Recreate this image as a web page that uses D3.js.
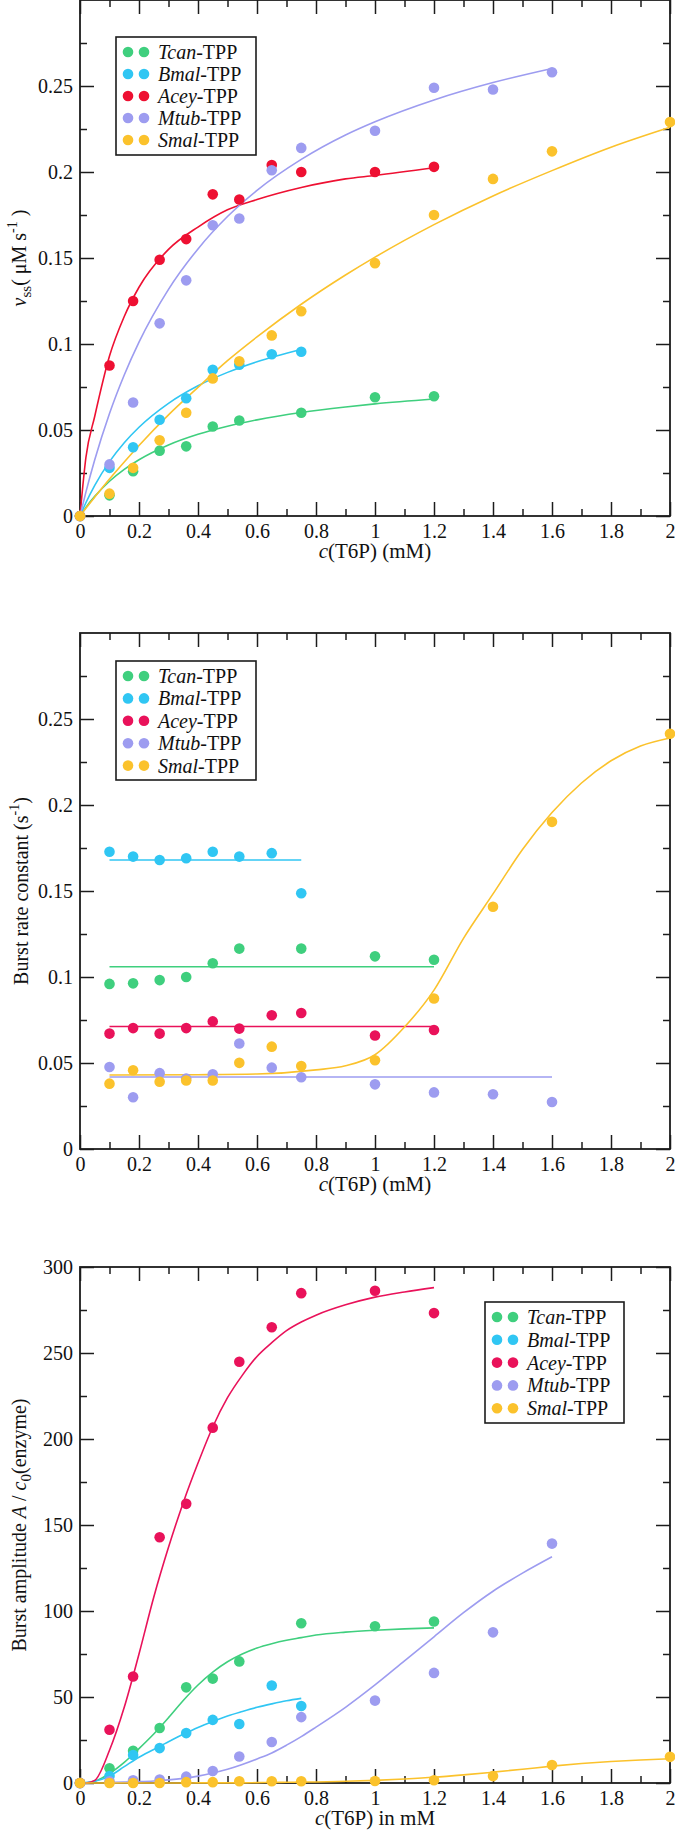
<!DOCTYPE html>
<html><head><meta charset="utf-8">
<script src="https://cdn.jsdelivr.net/npm/d3@7"></script>
<style>
body{margin:0;background:#fff}
svg{display:block}
svg text{font-family:"Liberation Serif","Tinos","Times New Roman","DejaVu Serif",serif;fill:#111}
</style>
</head><body>
<svg id="c" width="675" height="1830"></svg>
<script>
// ---------- categories / shared ----------
const species = ["Tcan", "Bmal", "Acey", "Mtub", "Smal"];
const conc = [0, 0.1, 0.18, 0.27, 0.36, 0.45, 0.54, 0.65, 0.75, 1.0, 1.2, 1.4, 1.6, 2.0];
const xTicks = [0, 0.2, 0.4, 0.6, 0.8, 1, 1.2, 1.4, 1.6, 1.8, 2];
const xTickLabels = ["0", "0.2", "0.4", "0.6", "0.8", "1", "1.2", "1.4", "1.6", "1.8", "2"];
const rateTicks = [0, 0.05, 0.1, 0.15, 0.2, 0.25];
const rateTickLabels = ["0", "0.05", "0.1", "0.15", "0.2", "0.25"];
const ampTicks = [0, 50, 100, 150, 200, 250, 300];
const ampTickLabels = ["0", "50", "100", "150", "200", "250", "300"];

// ---------- panel 1 : steady-state rate v_ss (µM/s) ----------
const vssTcan = [0, 0.012, 0.026, 0.038, 0.0405, 0.052, 0.0555, null, 0.060, 0.069, 0.0696, null, null, null];
const vssBmal = [0, 0.028, 0.040, 0.056, 0.0685, 0.085, 0.088, 0.094, 0.0955, null, null, null, null, null];
const vssAcey = [0, 0.0875, 0.125, 0.149, 0.161, 0.187, 0.184, 0.204, 0.200, 0.200, 0.203, null, null, null];
const vssMtub = [0, 0.030, 0.066, 0.112, 0.137, 0.169, 0.173, 0.201, 0.214, 0.224, 0.249, 0.248, 0.258, null];
const vssSmal = [0, 0.013, 0.028, 0.044, 0.060, 0.080, 0.090, 0.105, 0.119, 0.147, 0.175, 0.196, 0.212, 0.229];
// fitted curves
const fitX1 = [0, 0.02, 0.05, 0.1, 0.15, 0.2, 0.3, 0.4, 0.5, 0.6, 0.75, 0.9, 1.0, 1.2, 1.4, 1.6, 1.8, 2.0];
const vssFitTcan = [0, 0.005, 0.0114, 0.0202, 0.0271, 0.0327, 0.0413, 0.0475, 0.0522, 0.0559, 0.0602, 0.0634, 0.0652, 0.068, null, null, null, null];
const vssFitBmal = [0, 0.0077, 0.0178, 0.0316, 0.0426, 0.0516, 0.0655, 0.0757, 0.0835, 0.0897, 0.0968, null, null, null, null, null, null, null];
const vssFitAcey = [0, 0.034, 0.058, 0.093, 0.116, 0.133, 0.155, 0.168, 0.178, 0.184, 0.191, 0.196, 0.198, 0.2025, null, null, null, null];
const vssFitMtub = [0, 0.0139, 0.0327, 0.0596, 0.082, 0.1011, 0.1318, 0.1553, 0.1741, 0.1893, 0.2073, 0.2215, 0.2292, 0.2419, 0.252, 0.2602, null, null];
const vssFitSmal = [0, 0.0045, 0.011, 0.0215, 0.0314, 0.041, 0.0588, 0.0748, 0.0903, 0.1041, 0.1231, 0.1401, 0.1505, 0.1694, 0.1861, 0.2008, 0.2144, 0.226];

// ---------- panel 2 : burst rate constant (1/s) ----------
const kTcan = [null, 0.096, 0.0963, 0.0982, 0.100, 0.108, 0.1165, null, 0.1165, 0.112, 0.110, null, null, null];
const kBmal = [null, 0.1728, 0.170, 0.168, 0.169, 0.1728, 0.170, 0.172, 0.1487, null, null, null, null, null];
const kAcey = [null, 0.0671, 0.0703, 0.0671, 0.0703, 0.0742, 0.070, 0.0778, 0.0791, 0.066, 0.0692, null, null, null];
const kMtub = [null, 0.0477, 0.0301, 0.0441, 0.041, 0.0434, 0.0613, 0.0473, 0.0417, 0.0376, 0.0329, 0.0318, 0.0273, null];
const kSmal = [null, 0.038, 0.0458, 0.0391, 0.0398, 0.0398, 0.0501, 0.0595, 0.0482, 0.0516, 0.0875, 0.1408, 0.1902, 0.2414];
const kFitLevelTcan = [0.106, 0.106];   const kFitRangeTcan = [0.1, 1.2];
const kFitLevelBmal = [0.168, 0.168];   const kFitRangeBmal = [0.1, 0.75];
const kFitLevelAcey = [0.0712, 0.0712]; const kFitRangeAcey = [0.1, 1.2];
const kFitLevelMtub = [0.0419, 0.0419]; const kFitRangeMtub = [0.1, 1.6];
const fitX2 = [0.1, 0.4, 0.6, 0.8, 0.9, 1.0, 1.1, 1.2, 1.3, 1.4, 1.5, 1.6, 1.7, 1.8, 1.9, 2.0];
const kFitSmal = [0.043, 0.0432, 0.0436, 0.046, 0.0484, 0.0548, 0.0709, 0.0924, 0.1225, 0.1483, 0.1741, 0.1956, 0.2128, 0.2257, 0.2343, 0.239];

// ---------- panel 3 : burst amplitude A / c0 ----------
const ampTcan = [0, 8.6, 18.7, 32, 55.6, 60.7, 70.7, null, 92.9, 91.1, 93.9, null, null, null];
const ampBmal = [0, 4, 16.3, 20.3, 29, 36.7, 34.3, 56.7, 44.8, null, null, null, null, null];
const ampAcey = [0, 31, 61.9, 142.9, 162.3, 206.6, 244.9, 265, 284.8, 286.2, 273.2, null, null, null];
const ampMtub = [0, 1, 1.6, 2, 3.7, 7, 15.4, 23.8, 38.3, 47.9, 64, 87.6, 139.2, null];
const ampSmal = [0, 0, 0, 0, 0.5, 0.5, 1, 1, 1, 1.2, 1.6, 4, 10.5, 15.2];
const fitX3 = [0, 0.02, 0.05, 0.1, 0.15, 0.2, 0.25, 0.3, 0.35, 0.4, 0.45, 0.5, 0.55, 0.6, 0.65, 0.7, 0.75, 0.8, 0.9, 1.0, 1.1, 1.2, 1.3, 1.4, 1.5, 1.6, 1.7, 1.8, 1.9, 2.0];
const ampFitTcan = [0, 0, 1, 5.5, 12, 20, 28.5, 38, 48, 57, 64.5, 70.5, 75, 78.5, 81, 83, 84.5, 86, 87.7, 88.8, 89.6, 90.2, null, null, null, null, null, null, null, null];
const ampFitBmal = [0, 0.3, 1, 4, 9.5, 15, 19.5, 24, 28.3, 32.3, 35.8, 39, 41.6, 44, 46, 47.8, 49.2, null, null, null, null, null, null, null, null, null, null, null, null, null];
const ampFitAcey = [0, 0, 1.5, 19, 44, 75, 108, 137, 163, 186, 207, 224, 237, 248, 256, 263, 268, 272, 278, 282.5, 285.5, 288, null, null, null, null, null, null, null, null];
const ampFitMtub = [null, null, null, 0.3, 0.5, 0.8, 1.2, 1.8, 2.7, 4, 5.8, 8, 10.8, 14, 17.5, 22, 27, 32.5, 44, 57, 71, 85, 99, 111.5, 122, 131.5, null, null, null, null];
const ampFitSmal = [0, 0, 0, 0, 0, 0, 0, 0, 0, 0.05, 0.05, 0.1, 0.1, 0.2, 0.3, 0.4, 0.5, 0.6, 1, 1.5, 2.3, 3.3, 4.7, 6.3, 8, 9.8, 11.3, 12.5, 13.4, 14.1];

// ---------- colours ----------
const colTcan = "#3fcf7e", colBmal = "#30c6f3", colAceyRed = "#ee1032", colAceyPink = "#e9125a",
      colMtub = "#9d9cf0", colSmal = "#fbc22c";

// ---------- drawing ----------
const FONT = '"Liberation Serif","Tinos","Times New Roman","DejaVu Serif",serif';
const svg = d3.select("#c");
const L = 80, R = 670, H = 516;
const ink = "#1c1c1c";

function pairs(xs, ys) {
  return xs.map((v, i) => [v, ys[i]]).filter(d => d[1] !== null && d[1] !== undefined);
}

function panel(cfg) {
  const top = cfg.top, bottom = top + H;
  const x = d3.scaleLinear().domain([0, 2]).range([L, R]);
  const y = d3.scaleLinear().domain(cfg.ydom).range([bottom, top]);
  const g = svg.append("g").attr("font-family", FONT);

  const minorX = d3.range(0.1, 2, 0.2);
  const minorY = cfg.minorY;
  function styleAxis(sel) {
    sel.attr("font-family", FONT).attr("font-size", 20);
    sel.select(".domain").remove();
    sel.selectAll("line").attr("stroke", ink).attr("stroke-width", 1.5);
    sel.selectAll("text").attr("font-size", 20).attr("font-family", FONT).attr("fill", "#111");
  }
  // bottom
  g.append("g").attr("transform", `translate(0,${bottom})`)
    .call(d3.axisBottom(x).tickValues(xTicks).tickSize(-14).tickPadding(8).tickFormat((d, i) => xTickLabels[i]))
    .call(styleAxis);
  g.append("g").attr("transform", `translate(0,${bottom})`)
    .call(d3.axisBottom(x).tickValues(minorX).tickSize(-7).tickFormat(""))
    .call(styleAxis);
  // top
  g.append("g").attr("transform", `translate(0,${top})`)
    .call(d3.axisTop(x).tickValues(xTicks).tickSize(-14).tickFormat(""))
    .call(styleAxis);
  g.append("g").attr("transform", `translate(0,${top})`)
    .call(d3.axisTop(x).tickValues(minorX).tickSize(-7).tickFormat(""))
    .call(styleAxis);
  // left
  g.append("g").attr("transform", `translate(${L},0)`)
    .call(d3.axisLeft(y).tickValues(cfg.yTicks).tickSize(-14).tickPadding(7).tickFormat((d, i) => cfg.yLabels[i]))
    .call(styleAxis);
  g.append("g").attr("transform", `translate(${L},0)`)
    .call(d3.axisLeft(y).tickValues(minorY).tickSize(-7).tickFormat(""))
    .call(styleAxis);
  // right
  g.append("g").attr("transform", `translate(${R},0)`)
    .call(d3.axisRight(y).tickValues(cfg.yTicks).tickSize(-14).tickFormat(""))
    .call(styleAxis);
  g.append("g").attr("transform", `translate(${R},0)`)
    .call(d3.axisRight(y).tickValues(minorY).tickSize(-7).tickFormat(""))
    .call(styleAxis);
  // frame
  g.append("rect").attr("x", L).attr("y", top).attr("width", R - L).attr("height", H)
    .attr("fill", "none").attr("stroke", ink).attr("stroke-width", 1.8);

  // curves
  const line = d3.line().x(d => x(d[0])).y(d => y(d[1])).curve(d3.curveMonotoneX);
  cfg.fits.forEach(f => {
    g.append("path").attr("d", line(pairs(f.x, f.y)))
      .attr("fill", "none").attr("stroke", f.color).attr("stroke-width", 1.6);
  });
  // points
  cfg.series.forEach(s => {
    g.append("g").selectAll("circle").data(pairs(conc, s.values)).join("circle")
      .attr("cx", d => x(d[0])).attr("cy", d => y(d[1])).attr("r", 5.3).attr("fill", s.color);
  });

  // axis titles
  const xt = g.append("text").attr("x", (L + R) / 2).attr("y", cfg.xTitleY)
    .attr("text-anchor", "middle").attr("font-size", 21);
  xt.append("tspan").attr("font-style", "italic").text("c");
  xt.append("tspan").text(cfg.xTitleRest);

  const yt = g.append("text").attr("transform", `translate(${cfg.yTitleX},${(top + bottom) / 2}) rotate(-90)`)
    .attr("text-anchor", "middle").attr("font-size", 20);
  cfg.yTitle(yt);

  // legend
  const lg = g.append("g").attr("transform", `translate(${cfg.legend.x},${cfg.legend.y})`);
  lg.append("rect").attr("width", cfg.legend.w).attr("height", cfg.legend.h)
    .attr("fill", "#fff").attr("stroke", ink).attr("stroke-width", 1.6);
  cfg.series.forEach((s, i) => {
    const cy = 15 + i * cfg.legend.step;
    lg.append("circle").attr("cx", 12).attr("cy", cy).attr("r", 5.3).attr("fill", s.color);
    lg.append("circle").attr("cx", 28).attr("cy", cy).attr("r", 5.3).attr("fill", s.color);
    const t = lg.append("text").attr("x", 42).attr("y", cy + 7).attr("font-size", 20);
    t.append("tspan").attr("font-style", "italic").text(species[i]);
    t.append("tspan").text("-TPP");
  });
}

// Panel 1
panel({
  top: 0, ydom: [0, 0.3],
  yTicks: rateTicks, yLabels: rateTickLabels, minorY: d3.range(0.025, 0.3, 0.05),
  series: [
    { values: vssTcan, color: colTcan }, { values: vssBmal, color: colBmal },
    { values: vssAcey, color: colAceyRed }, { values: vssMtub, color: colMtub },
    { values: vssSmal, color: colSmal }],
  fits: [
    { x: fitX1, y: vssFitTcan, color: colTcan }, { x: fitX1, y: vssFitBmal, color: colBmal },
    { x: fitX1, y: vssFitAcey, color: colAceyRed }, { x: fitX1, y: vssFitMtub, color: colMtub },
    { x: fitX1, y: vssFitSmal, color: colSmal }],
  xTitleY: 558, xTitleRest: "(T6P) (mM)",
  yTitleX: 26,
  yTitle: t => {
    t.append("tspan").attr("font-style", "italic").text("ν");
    t.append("tspan").attr("font-size", 15).attr("dy", 5).text("ss");
    t.append("tspan").attr("dy", -5).text("( μM s");
    t.append("tspan").attr("font-size", 14).attr("dy", -9).text("-1");
    t.append("tspan").attr("dy", 9).text(" )");
  },
  legend: { x: 116, y: 37, w: 140, h: 118, step: 22 }
});

// Panel 2
panel({
  top: 633, ydom: [0, 0.3],
  yTicks: rateTicks, yLabels: rateTickLabels, minorY: d3.range(0.025, 0.3, 0.05),
  series: [
    { values: kTcan, color: colTcan }, { values: kBmal, color: colBmal },
    { values: kAcey, color: colAceyPink }, { values: kMtub, color: colMtub },
    { values: kSmal, color: colSmal }],
  fits: [
    { x: kFitRangeTcan, y: kFitLevelTcan, color: colTcan }, { x: kFitRangeBmal, y: kFitLevelBmal, color: colBmal },
    { x: kFitRangeAcey, y: kFitLevelAcey, color: colAceyPink }, { x: kFitRangeMtub, y: kFitLevelMtub, color: colMtub },
    { x: fitX2, y: kFitSmal, color: colSmal }],
  xTitleY: 1191, xTitleRest: "(T6P) (mM)",
  yTitleX: 28,
  yTitle: t => {
    t.append("tspan").text("Burst rate constant (s");
    t.append("tspan").attr("font-size", 14).attr("dy", -9).text("-1");
    t.append("tspan").attr("dy", 9).text(")");
  },
  legend: { x: 116, y: 661, w: 140, h: 119, step: 22.4 }
});

// Panel 3
panel({
  top: 1267, ydom: [0, 300],
  yTicks: ampTicks, yLabels: ampTickLabels, minorY: d3.range(25, 300, 50),
  series: [
    { values: ampTcan, color: colTcan }, { values: ampBmal, color: colBmal },
    { values: ampAcey, color: colAceyPink }, { values: ampMtub, color: colMtub },
    { values: ampSmal, color: colSmal }],
  fits: [
    { x: fitX3, y: ampFitTcan, color: colTcan }, { x: fitX3, y: ampFitBmal, color: colBmal },
    { x: fitX3, y: ampFitAcey, color: colAceyPink }, { x: fitX3, y: ampFitMtub, color: colMtub },
    { x: fitX3, y: ampFitSmal, color: colSmal }],
  xTitleY: 1825, xTitleRest: "(T6P) in mM",
  yTitleX: 26,
  yTitle: t => {
    t.append("tspan").text("Burst amplitude ");
    t.append("tspan").attr("font-style", "italic").text("A");
    t.append("tspan").text(" / ");
    t.append("tspan").attr("font-style", "italic").text("c");
    t.append("tspan").attr("font-size", 15).attr("dy", 5).text("0");
    t.append("tspan").attr("dy", -5).text("(enzyme)");
  },
  legend: { x: 485, y: 1302, w: 139, h: 121, step: 22.8 }
});
</script>
</body></html>
